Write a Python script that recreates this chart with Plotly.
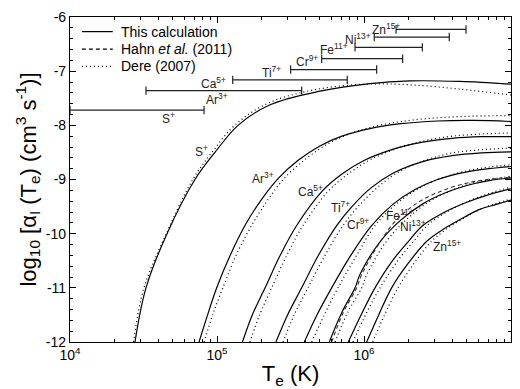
import numpy as np
import plotly.graph_objects as go

# ---------------- data (log10 T, log10 alpha) ----------------
ions = ["S<sup>+</sup>", "Ar<sup>3+</sup>", "Ca<sup>5+</sup>", "Ti<sup>7+</sup>",
        "Cr<sup>9+</sup>", "Fe<sup>11+</sup>", "Ni<sup>13+</sup>", "Zn<sup>15+</sup>"]

# This calculation (solid)
S_logT = [4.442, 4.517, 4.660, 4.850, 4.986, 5.143, 5.361, 5.701, 6.041, 6.313, 6.653, 7.0]
S_val = [-12, -11, -10, -9, -8.5, -8, -7.62, -7.37, -7.23, -7.18, -7.19, -7.24]
Ar_logT = [4.878, 4.93, 4.998, 5.09, 5.19, 5.30, 5.42, 5.55, 5.70, 5.85, 6.04, 6.25, 6.5, 6.75, 7.0]
Ar_val = [-12, -11.55, -11, -10.4, -9.85, -9.38, -8.97, -8.65, -8.38, -8.20, -8.06, -7.97, -7.92, -7.91, -7.93]
Ca_logT = [5.173, 5.24, 5.327, 5.43, 5.542, 5.714, 5.85, 6.0, 6.2, 6.4, 6.6, 6.8, 7.0]
Ca_val = [-12, -11.5, -11, -10.4, -9.85, -9.22, -8.90, -8.65, -8.44, -8.31, -8.24, -8.21, -8.21]
Ti_logT = [5.401, 5.48, 5.576, 5.69, 5.814, 5.918, 6.05, 6.2, 6.4, 6.6, 6.8, 7.0]
Ti_val = [-12, -11.5, -11, -10.4, -9.85, -9.5, -9.15, -8.88, -8.67, -8.56, -8.51, -8.49]
Cr_logT = [5.594, 5.68, 5.780, 5.91, 6.052, 6.2, 6.35, 6.5, 6.7, 6.85, 7.0]
Cr_val = [-12, -11.5, -11, -10.4, -9.85, -9.45, -9.18, -9.0, -8.86, -8.80, -8.76]
Fe_logT = [5.764, 5.85, 5.939, 5.973, 6.109, 6.25, 6.4, 6.55, 6.7, 6.85, 7.0]
Fe_val = [-12, -11.45, -11, -10.75, -10.15, -9.75, -9.45, -9.25, -9.11, -9.02, -8.97]
Ni_logT = [5.893, 5.98, 6.075, 6.199, 6.30, 6.40, 6.55, 6.7, 6.85, 7.0]
Ni_val = [-12, -11.5, -11, -10.48, -10.15, -9.85, -9.60, -9.42, -9.28, -9.17]
Zn_logT = [6.018, 6.10, 6.188, 6.30, 6.427, 6.55, 6.653, 6.778, 6.9, 7.0]
Zn_val = [-12, -11.5, -11, -10.55, -10.14, -9.90, -9.74, -9.56, -9.46, -9.38]

# Dere (2007) (dotted)
Sd_logT = [4.432, 4.503, 4.655, 4.835, 4.965, 5.12, 5.34, 5.65, 6.0, 6.3, 6.65, 7.0]
Sd_val = [-12, -11, -10, -9, -8.5, -8, -7.6, -7.35, -7.24, -7.25, -7.33, -7.44]
Ard_logT = [4.912, 4.97, 5.04, 5.13, 5.235, 5.345, 5.46, 5.59, 5.73, 5.87, 6.04, 6.25, 6.5, 6.75, 7.0]
Ard_val = [-12, -11.5, -11, -10.4, -9.85, -9.38, -8.97, -8.65, -8.38, -8.19, -8.04, -7.93, -7.86, -7.83, -7.82]
Cad_logT = [5.224, 5.29, 5.372, 5.475, 5.585, 5.755, 5.89, 6.04, 6.23, 6.42, 6.6, 6.8, 7.0]
Cad_val = [-12, -11.5, -11, -10.4, -9.85, -9.22, -8.90, -8.64, -8.42, -8.28, -8.20, -8.16, -8.14]
Tid_logT = [5.449, 5.525, 5.619, 5.735, 5.857, 5.96, 6.09, 6.23, 6.42, 6.6, 6.8, 7.0]
Tid_val = [-12, -11.5, -11, -10.4, -9.85, -9.5, -9.15, -8.87, -8.64, -8.51, -8.45, -8.42]
Crd_logT = [5.644, 5.73, 5.823, 5.95, 6.075, 6.22, 6.37, 6.52, 6.7, 6.85, 7.0]
Crd_val = [-12, -11.5, -11, -10.4, -9.85, -9.45, -9.17, -8.98, -8.84, -8.77, -8.73]
Fed_logT = [5.803, 5.89, 5.984, 6.02, 6.15, 6.285, 6.43, 6.57, 6.72, 6.86, 7.0]
Fed_val = [-12, -11.45, -11, -10.75, -10.15, -9.75, -9.43, -9.23, -9.08, -9.0, -8.94]
Nid_logT = [5.925, 6.01, 6.109, 6.235, 6.335, 6.43, 6.575, 6.72, 6.86, 7.0]
Nid_val = [-12, -11.5, -11, -10.48, -10.15, -9.85, -9.58, -9.39, -9.25, -9.14]
Znd_logT = [6.059, 6.14, 6.231, 6.34, 6.46, 6.58, 6.675, 6.79, 6.9, 7.0]
Znd_val = [-12, -11.5, -11, -10.55, -10.14, -9.88, -9.72, -9.55, -9.44, -9.36]

# Hahn et al. (2011) (dashed, Fe11+)
Feh_logT = [5.78, 5.86, 5.95, 5.985, 6.11, 6.22, 6.37, 6.52, 6.68, 6.84, 7.0]
Feh_val = [-12, -11.45, -11, -10.75, -10.15, -9.75, -9.42, -9.22, -9.08, -9.0, -8.96]

solid = [(S_logT, S_val), (Ar_logT, Ar_val), (Ca_logT, Ca_val), (Ti_logT, Ti_val),
         (Cr_logT, Cr_val), (Fe_logT, Fe_val), (Ni_logT, Ni_val), (Zn_logT, Zn_val)]
dotted = [(Sd_logT, Sd_val), (Ard_logT, Ard_val), (Cad_logT, Cad_val), (Tid_logT, Tid_val),
          (Crd_logT, Crd_val), (Fed_logT, Fed_val), (Nid_logT, Nid_val), (Znd_logT, Znd_val)]

# temperature ranges (bars): log10 T start/end and level
bar_lo = [4.0, 4.517, 5.107, 5.501, 5.712, 5.939, 6.070, 6.218]
bar_hi = [4.912, 5.576, 5.886, 6.086, 6.263, 6.397, 6.580, 6.694]
bar_y = [-7.72, -7.36, -7.16, -6.97, -6.77, -6.56, -6.37, -6.23]
barlab_x = [4.667, 4.998, 4.973, 5.372, 5.61, 5.795, 5.959, 6.15]
barlab_y = [-7.86, -7.51, -7.21, -7.01, -6.81, -6.59, -6.40, -6.22]

# curve labels
curvelab_x = [4.896, 5.315, 5.633, 5.837, 5.959, 6.245, 6.333, 6.563]
curvelab_y = [-8.48, -8.97, -9.22, -9.50, -9.83, -9.65, -9.86, -10.23]

# legend entries and axis ticks
legend_names = ["This calculation", "Hahn <i>et al.</i> (2011)", "Dere (2007)"]
legend_dash = ["solid", "4px,3px", "1px,3px"]
ytick_vals = [-12, -11, -10, -9, -8, -7, -6]
ytick_text = ["-12", "-11", "-10", "-9", "-8", "-7", "-6"]
xtick_vals = [1e4, 1e5, 1e6, 1e7]
xtick_text = ["10<sup>4</sup>", "10<sup>5</sup>", "10<sup>6</sup>", "10<sup>7</sup>"]

FONT = "Liberation Sans, Arial, sans-serif"
fig = go.Figure()

for lt, v in solid:
    fig.add_trace(go.Scatter(x=10 ** np.array(lt), y=v, mode="lines", line_shape="spline",
                             line=dict(color="black", width=1.2), showlegend=False))
fig.add_trace(go.Scatter(x=10 ** np.array(Feh_logT), y=Feh_val, mode="lines", line_shape="spline",
                         line=dict(color="#333333", width=1.1, dash="4px,3px"), showlegend=False))
for lt, v in dotted:
    fig.add_trace(go.Scatter(x=10 ** np.array(lt), y=v, mode="lines", line_shape="spline",
                             line=dict(color="black", width=1.2, dash="1px,3px"), showlegend=False))

for lo, hi, yv in zip(bar_lo, bar_hi, bar_y):
    fig.add_trace(go.Scatter(x=[10 ** lo, 10 ** hi], y=[yv, yv], mode="lines+markers",
                             line=dict(color="#222222", width=1.3),
                             marker=dict(symbol="line-ns", size=6,
                                         line=dict(color="#222222", width=1.2)),
                             showlegend=False, hoverinfo="skip"))

for name, x, y in zip(ions, barlab_x, barlab_y):
    fig.add_annotation(x=x, y=y, xref="x", yref="y", text=name, showarrow=False,
                       font=dict(family=FONT, size=12, color="#222222"))
for name, x, y in zip(ions, curvelab_x, curvelab_y):
    fig.add_annotation(x=x, y=y, xref="x", yref="y", text=name, showarrow=False,
                       font=dict(family=FONT, size=12, color="#222222"))

# manual legend (compact, as in the reference)
leg_y = [0.955, 0.901, 0.848]
for name, dash, ly in zip(legend_names, legend_dash, leg_y):
    fig.add_shape(type="line", xref="paper", yref="paper", x0=0.027, x1=0.097, y0=ly, y1=ly,
                  line=dict(color="black", width=1.2, dash=dash))
    fig.add_annotation(x=0.111, y=ly, xref="paper", yref="paper", text=name, showarrow=False,
                       xanchor="left", yanchor="middle", font=dict(family=FONT, size=14, color="black"))

fig.update_layout(
    width=520, height=389,
    margin=dict(l=70, r=9, t=17, b=47),
    paper_bgcolor="white", plot_bgcolor="white",
    font=dict(family=FONT, size=14, color="black"),
    showlegend=False,
)
fig.update_xaxes(type="log", range=[4, 7], showline=True, linecolor="black", linewidth=1.2,
                 mirror="ticks", ticks="inside", ticklen=6, tickcolor="black",
                 tickvals=xtick_vals, ticktext=xtick_text, tickfont=dict(size=14),
                 minor=dict(ticks="inside", ticklen=3, tickcolor="black", dtick="D1", showgrid=False),
                 showgrid=False, zeroline=False, automargin=False,
                 title=dict(text="T<sub>e</sub> (K)", font=dict(size=22), standoff=5))
fig.update_yaxes(range=[-12, -6], showline=True, linecolor="black", linewidth=1.2,
                 mirror="ticks", ticks="inside", ticklen=6, tickcolor="black",
                 tickvals=ytick_vals, ticktext=ytick_text, tickfont=dict(size=14),
                 minor=dict(ticks="inside", ticklen=3, tickcolor="black", dtick=0.2, showgrid=False),
                 showgrid=False, zeroline=False, automargin=False,
                 title=dict(text="log<sub>10</sub> [α<sub>I</sub> (T<sub>e</sub>) (cm<sup>3</sup> s<sup>-1</sup>)]",
                            font=dict(size=22), standoff=3))

fig.write_html("out.html", config={"displayModeBar": False},
               post_script="document.body.style.margin='0';document.body.style.overflow='hidden';")
